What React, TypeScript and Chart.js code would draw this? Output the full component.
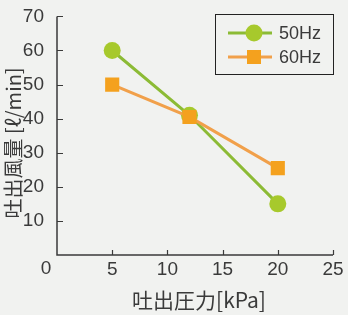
import { useEffect, useRef } from 'react';
import { Chart, registerables } from 'chart.js';

Chart.register(...registerables);

// ---- data ----
const seriesLabels = ['50Hz', '60Hz'];
const pressure50 = [5, 12, 20];
const flow50 = [60, 41, 15];
const pressure60 = [5, 12, 20];
const flow60 = [50, 40.5, 25.5];
const xTickValues = [0, 5, 10, 15, 20, 25];
const yTickValues = [0, 10, 20, 30, 40, 50, 60, 70];
const xTitle = '吐出圧力[kPa]';
const yTitle = '吐出風量 [ℓ/min]';
const originLabel = '0';

// ---- styles ----
const BG = '#f1f2f0';
const AXIS = '#3a3a3a';
const TEXT = '#3a3a3a';
const GREEN_LINE = '#8cbb35';
const GREEN_FILL = '#a7c92c';
const ORANGE_LINE = '#f1a04a';
const ORANGE_FILL = '#f4a11e';
const FONT = '"Liberation Sans", Arial, sans-serif';
const CJK = '"Noto Sans CJK JP", "Liberation Sans", sans-serif';

const decorPlugin = {
  id: 'decor',
  beforeDraw(chart: any) {
    const { ctx, width, height } = chart;
    ctx.save();
    ctx.fillStyle = BG;
    ctx.fillRect(0, 0, width, height);
    ctx.restore();
  },
  beforeDatasetsDraw(chart: any) {
    const { ctx } = chart;
    const xs = chart.scales.x;
    const ys = chart.scales.y;
    const left = xs.getPixelForValue(0);
    const bottom = ys.getPixelForValue(0);
    const top = ys.getPixelForValue(yTickValues[yTickValues.length - 1]);
    const right = xs.getPixelForValue(xTickValues[xTickValues.length - 1]);
    ctx.save();
    ctx.strokeStyle = AXIS;
    ctx.lineWidth = 1.5;
    ctx.beginPath();
    ctx.moveTo(left, top);
    ctx.lineTo(left, bottom);
    ctx.lineTo(right, bottom);
    ctx.stroke();
    ctx.lineWidth = 1.2;
    ctx.beginPath();
    yTickValues.forEach((v) => {
      if (v === 0) return;
      const y = Math.round(ys.getPixelForValue(v)) + 0.5;
      ctx.moveTo(left, y);
      ctx.lineTo(left + 6, y);
    });
    xTickValues.forEach((v) => {
      if (v === 0) return;
      const x = Math.round(xs.getPixelForValue(v)) + 0.5;
      ctx.moveTo(x, bottom);
      ctx.lineTo(x, bottom - 5);
    });
    ctx.stroke();

    // origin label
    ctx.fillStyle = TEXT;
    ctx.font = `19px ${FONT}`;
    ctx.textAlign = 'center';
    ctx.textBaseline = 'middle';
    ctx.fillText(originLabel, left - 11, bottom + 14);

    // axis titles
    ctx.font = `21px ${CJK}`;
    ctx.fillStyle = TEXT;
    ctx.fillText(xTitle, 199, 300);
    ctx.save();
    ctx.font = `20px ${CJK}`;
    ctx.translate(13, 143);
    ctx.rotate(-Math.PI / 2);
    ctx.fillText(yTitle, 0, 0);
    ctx.restore();

    // legend
    ctx.strokeStyle = '#222';
    ctx.lineWidth = 1;
    ctx.strokeRect(215.5, 14.5, 118, 60);
    const rows = [
      { label: seriesLabels[0], line: GREEN_LINE, fill: GREEN_FILL, y: 33, circle: true },
      { label: seriesLabels[1], line: ORANGE_LINE, fill: ORANGE_FILL, y: 57, circle: false },
    ];
    rows.forEach((r) => {
      ctx.strokeStyle = r.line;
      ctx.lineWidth = 3;
      ctx.beginPath();
      ctx.moveTo(228, r.y);
      ctx.lineTo(272, r.y);
      ctx.stroke();
      ctx.fillStyle = r.fill;
      if (r.circle) {
        ctx.beginPath();
        ctx.arc(254, r.y, 8.5, 0, Math.PI * 2);
        ctx.fill();
      } else {
        ctx.fillRect(247, r.y - 7, 14, 14);
      }
      ctx.fillStyle = TEXT;
      ctx.font = `18px ${FONT}`;
      ctx.textAlign = 'left';
      ctx.textBaseline = 'middle';
      ctx.fillText(r.label, 279, r.y + 1);
    });
    ctx.restore();
  },
};

export default function App() {
  const ref = useRef<HTMLCanvasElement>(null);
  useEffect(() => {
    const canvas = ref.current;
    if (!canvas) return;
    const chart = new Chart(canvas, {
      type: 'line',
      data: {
        datasets: [
          {
            label: seriesLabels[0],
            data: pressure50.map((x, i) => ({ x, y: flow50[i] })),
            borderColor: GREEN_LINE,
            backgroundColor: GREEN_FILL,
            pointBackgroundColor: GREEN_FILL,
            pointBorderColor: GREEN_FILL,
            borderWidth: 3,
            pointRadius: 8.5,
            pointStyle: 'circle',
            pointBorderWidth: 0,
            order: 1,
          },
          {
            label: seriesLabels[1],
            data: pressure60.map((x, i) => ({ x, y: flow60[i] })),
            borderColor: ORANGE_LINE,
            backgroundColor: ORANGE_FILL,
            pointBackgroundColor: ORANGE_FILL,
            pointBorderColor: ORANGE_FILL,
            borderWidth: 3,
            pointRadius: 10,
            pointStyle: 'rect',
            pointBorderWidth: 0,
            order: 0,
          },
        ],
      },
      plugins: [decorPlugin],
      options: {
        responsive: false,
        animation: false,
        layout: { padding: { left: 0, top: 15, right: 15, bottom: 0 } },
        plugins: { legend: { display: false }, tooltip: { enabled: false } },
        scales: {
          x: {
            type: 'linear',
            min: 0,
            max: 25,
            grid: { display: false },
            border: { display: false },
            afterFit: (s: any) => { s.height = 60; },
            afterBuildTicks: (s: any) => { s.ticks = xTickValues.map((value) => ({ value })); },
            ticks: {
              padding: -5,
              color: TEXT,
              font: { family: FONT, size: 19 },
              callback: (v: any) => (v === 0 ? '' : String(v)),
              maxRotation: 0,
            },
          },
          y: {
            type: 'linear',
            min: 0,
            max: 70,
            grid: { display: false },
            border: { display: false },
            afterFit: (s: any) => { s.width = 57; },
            afterBuildTicks: (s: any) => { s.ticks = yTickValues.map((value) => ({ value })); },
            ticks: {
              padding: 5,
              color: TEXT,
              font: { family: FONT, size: 19 },
              callback: (v: any) => (v === 0 ? '' : String(v)),
            },
          },
        },
      },
    });
    return () => chart.destroy();
  }, []);
  return (
    <div style={{ position: 'fixed', left: 0, top: 0, width: 348, height: 315, background: BG }}>
      <canvas ref={ref} width={348} height={315} />
    </div>
  );
}
